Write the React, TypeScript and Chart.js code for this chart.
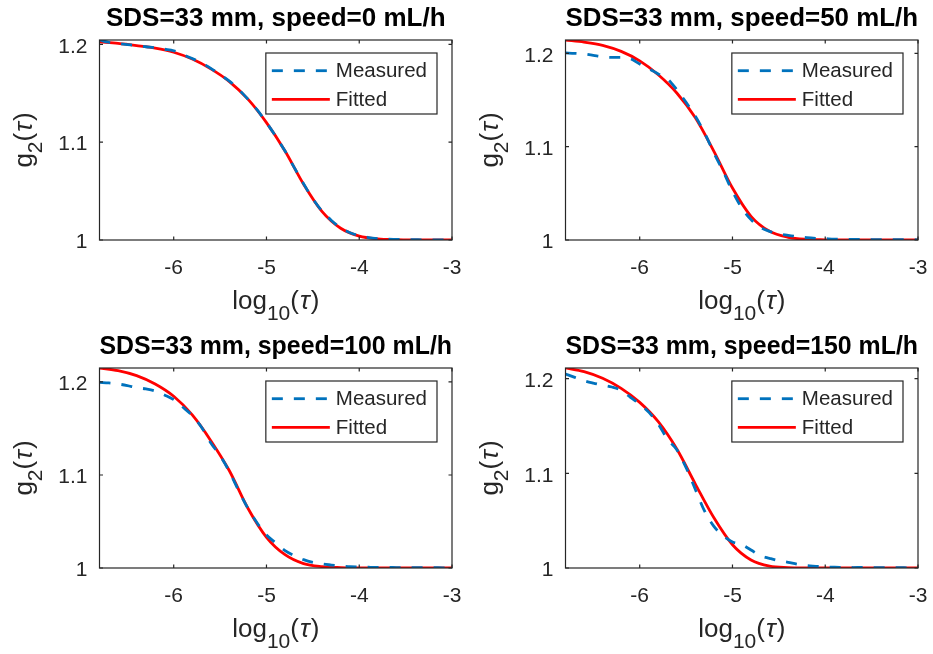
import React, { useEffect, useRef } from "react";
import { Chart, registerables } from "chart.js";

Chart.register(...registerables);

// ---------- data ----------
const TITLES = [
  "SDS=33 mm, speed=0 mL/h",
  "SDS=33 mm, speed=50 mL/h",
  "SDS=33 mm, speed=100 mL/h",
  "SDS=33 mm, speed=150 mL/h",
];
const LEGEND_LABELS = ["Measured", "Fitted"];
const X_TICKS = [-6, -5, -4, -3];
const Y_TICKS = [1, 1.1, 1.2];
const X_MIN = -6.8;
const X_MAX = -3;
const Y_MIN = 1;
const Y_MAX = [1.2045, 1.2143, 1.215, 1.2113];

// log10(tau) sample positions
const TAU_FIT = [-6.8, -6.6, -6.4, -6.2, -6.0, -5.8, -5.6, -5.4, -5.2, -5.0, -4.8, -4.6, -4.4, -4.2, -4.0, -3.8, -3.6, -3.4, -3.2, -3.0];
const TAU_MEAS = [
  -6.8, -6.7, -6.6, -6.5, -6.4, -6.3, -6.2, -6.1, -6.0, -5.9, -5.8, -5.7, -5.6, -5.5, -5.4, -5.3, -5.2, -5.1, -5.0, -4.9,
  -4.8, -4.7, -4.6, -4.5, -4.4, -4.3, -4.2, -4.1, -4.0, -3.9, -3.8, -3.7, -3.6, -3.5, -3.4, -3.3, -3.2, -3.1, -3.0,
];

const FIT_0 = [1.2025, 1.201, 1.1988, 1.1962, 1.192, 1.185, 1.175, 1.162, 1.144, 1.12, 1.091, 1.057, 1.029, 1.012, 1.004, 1.0012, 1.0004, 1.0001, 1.0, 1.0];
const FIT_50 = [1.2143, 1.2121, 1.2086, 1.2021, 1.192, 1.1771, 1.1575, 1.131, 1.095, 1.0557, 1.0254, 1.0093, 1.0029, 1.0007, 1.0002, 1.0, 1.0, 1.0, 1.0, 1.0];
const FIT_100 = [1.215, 1.2122, 1.2068, 1.1978, 1.1846, 1.1645, 1.1369, 1.1045, 1.0642, 1.033, 1.0143, 1.0047, 1.0014, 1.0004, 1.0001, 1.0, 1.0, 1.0, 1.0, 1.0];
const FIT_150 = [1.2113, 1.2074, 1.2004, 1.1898, 1.175, 1.1546, 1.1257, 1.0887, 1.053, 1.0246, 1.0085, 1.002, 1.0005, 1.0001, 1.0, 1.0, 1.0, 1.0, 1.0, 1.0];

const MEAS_0 = [
  1.2045, 1.2022, 1.2008, 1.1998, 1.1989, 1.1976, 1.1966, 1.1951, 1.1935, 1.1895, 1.1855, 1.181, 1.1755, 1.169, 1.1625, 1.154, 1.144, 1.133, 1.12, 1.106,
  1.091, 1.074, 1.0575, 1.042, 1.0295, 1.02, 1.0125, 1.0075, 1.0045, 1.0025, 1.0014, 1.0008, 1.0006, 1.0004, 1.0003, 1.0002, 1.0002, 1.0001, 1.0001,
];
const MEAS_50 = [
  1.2004, 1.2, 1.1993, 1.1979, 1.1964, 1.1957, 1.1957, 1.1943, 1.1886, 1.1836, 1.1779, 1.1725, 1.161, 1.1475, 1.1325, 1.1146, 1.0932, 1.0736, 1.0521, 1.0343,
  1.0218, 1.0136, 1.0093, 1.0064, 1.005, 1.0036, 1.0025, 1.0018, 1.0014, 1.001, 1.0008, 1.0006, 1.0007, 1.0005, 1.0004, 1.0005, 1.0003, 1.0003, 1.0002,
];
const MEAS_100 = [
  1.1996, 1.1989, 1.1978, 1.1961, 1.1939, 1.1925, 1.1903, 1.186, 1.181, 1.1728, 1.1638, 1.1513, 1.1344, 1.1208, 1.1036, 1.0832, 1.0642, 1.0484, 1.0355, 1.0269,
  1.0186, 1.0133, 1.009, 1.0061, 1.0043, 1.0032, 1.0022, 1.0014, 1.0011, 1.0008, 1.0006, 1.0007, 1.0005, 1.0004, 1.0005, 1.0003, 1.0003, 1.0002, 1.0002,
];
const MEAS_150 = [
  1.205, 1.2014, 1.1979, 1.1954, 1.1933, 1.1912, 1.1877, 1.1803, 1.1732, 1.1644, 1.1521, 1.136, 1.125, 1.106, 1.083, 1.06, 1.044, 1.034, 1.0275, 1.0248,
  1.019, 1.013, 1.0102, 1.0077, 1.006, 1.0039, 1.0025, 1.0018, 1.0011, 1.0008, 1.0007, 1.0005, 1.0006, 1.0004, 1.0004, 1.0003, 1.0003, 1.0002, 1.0002,
];

const MEASURED = [MEAS_0, MEAS_50, MEAS_100, MEAS_150];
const FITTED = [FIT_0, FIT_50, FIT_100, FIT_150];

// axis labels as rich-text parts
const X_LABEL_PARTS = [
  { text: "log" },
  { text: "10", sub: true },
  { text: "(" },
  { text: "\u03C4", italic: true },
  { text: ")" },
];
const Y_LABEL_PARTS = [
  { text: "g" },
  { text: "2", sub: true },
  { text: "(" },
  { text: "\u03C4", italic: true },
  { text: ")" },
];

// ---------- styling ----------
const FONT = '"Liberation Sans", Arial, Helvetica, sans-serif';
const AXIS_COLOR = "#262626";
const BLUE = "#0072BD";
const RED = "#FF0000";
const CANVAS_W = 466;
const CANVAS_H = 326;
const PANEL_POS = [
  { left: 0, top: 0 },
  { left: 466, top: 0 },
  { left: 0, top: 328 },
  { left: 466, top: 328 },
];

type Part = { text: string; sub?: boolean; italic?: boolean };

function drawRich(ctx: CanvasRenderingContext2D, parts: Part[], x: number, y: number, rotate: boolean) {
  const main = 26;
  const sub = 21;
  const subDy = 10.5;
  ctx.save();
  ctx.translate(x, y);
  if (rotate) ctx.rotate(-Math.PI / 2);
  ctx.textAlign = "left";
  ctx.textBaseline = "alphabetic";
  ctx.fillStyle = AXIS_COLOR;
  const fonts = parts.map((p) => `${p.italic ? "italic " : ""}${p.sub ? sub : main}px ${FONT}`);
  const widths = parts.map((p, i) => {
    ctx.font = fonts[i];
    return ctx.measureText(p.text).width + (p.italic ? 2 : 0);
  });
  const total = widths.reduce((a, b) => a + b, 0);
  let cx = -total / 2;
  parts.forEach((p, i) => {
    ctx.font = fonts[i];
    ctx.fillText(p.text, cx + (p.italic ? 1 : 0), p.sub ? subDy : 0);
    cx += widths[i];
  });
  ctx.restore();
}

const matlabAxesPlugin = {
  id: "matlabAxes",
  afterDatasetsDraw(chart: any) {
    const { ctx, chartArea: a, scales } = chart;
    ctx.save();
    // axes box
    ctx.strokeStyle = AXIS_COLOR;
    ctx.lineWidth = 1.2;
    ctx.setLineDash([]);
    ctx.strokeRect(a.left, a.top, a.right - a.left, a.bottom - a.top);
    // inward tick marks
    const TL = 3.5;
    ctx.beginPath();
    for (const t of scales.x.ticks) {
      const px = scales.x.getPixelForValue(t.value);
      ctx.moveTo(px, a.bottom);
      ctx.lineTo(px, a.bottom - TL);
      ctx.moveTo(px, a.top);
      ctx.lineTo(px, a.top + TL);
    }
    for (const t of scales.y.ticks) {
      const py = scales.y.getPixelForValue(t.value);
      ctx.moveTo(a.left, py);
      ctx.lineTo(a.left + TL, py);
      ctx.moveTo(a.right, py);
      ctx.lineTo(a.right - TL, py);
    }
    ctx.stroke();

    // legend box
    const legendFont = `20.5px ${FONT}`;
    ctx.font = legendFont;
    const ds = chart.data.datasets;
    const textW = Math.max(...ds.map((d: any) => ctx.measureText(d.label).width));
    const padL = 6, lineLen = 58, gap = 6, padR = 10;
    const boxW = padL + lineLen + gap + textW + padR;
    const boxH = 61;
    const bx = a.right - 15 - boxW;
    const by = a.top + 13;
    ctx.fillStyle = "#ffffff";
    ctx.fillRect(bx, by, boxW, boxH);
    ctx.strokeStyle = AXIS_COLOR;
    ctx.lineWidth = 1.2;
    ctx.strokeRect(bx, by, boxW, boxH);
    const rowY = [by + 17.7, by + 46.3];
    ds.forEach((d: any, i: number) => {
      const ry = rowY[i];
      ctx.save();
      ctx.strokeStyle = d.borderColor;
      ctx.lineWidth = d.borderWidth;
      ctx.setLineDash(d.borderDash || []);
      ctx.beginPath();
      ctx.moveTo(bx + padL, ry);
      ctx.lineTo(bx + padL + lineLen, ry);
      ctx.stroke();
      ctx.restore();
      ctx.fillStyle = AXIS_COLOR;
      ctx.textBaseline = "middle";
      ctx.textAlign = "left";
      ctx.font = legendFont;
      ctx.fillText(d.label, bx + padL + lineLen + gap, ry + 1);
    });

    // axis titles
    drawRich(ctx, X_LABEL_PARTS, (a.left + a.right) / 2, 309, false);
    drawRich(ctx, Y_LABEL_PARTS, 31.5, (a.top + a.bottom) / 2, true);
    ctx.restore();
  },
};

function makeConfig(i: number): any {
  return {
    type: "line",
    data: {
      datasets: [
        {
          label: LEGEND_LABELS[0],
          data: MEASURED[i].map((y, k) => ({ x: TAU_MEAS[k], y })),
          borderColor: BLUE,
          borderWidth: 2.8,
          borderDash: [11, 11],
          pointRadius: 0,
          fill: false,
          cubicInterpolationMode: "monotone",
        },
        {
          label: LEGEND_LABELS[1],
          data: FITTED[i].map((y, k) => ({ x: TAU_FIT[k], y })),
          borderColor: RED,
          borderWidth: 2.8,
          pointRadius: 0,
          fill: false,
          cubicInterpolationMode: "monotone",
        },
      ],
    },
    options: {
      animation: false,
      responsive: false,
      devicePixelRatio: 1,
      events: [],
      layout: { padding: { left: 0, right: 14, top: 0, bottom: 0 } },
      plugins: {
        legend: { display: false },
        tooltip: { enabled: false },
        title: {
          display: true,
          text: TITLES[i],
          fullSize: false,
          color: "#000000",
          font: { family: FONT, size: 26, weight: "bold", lineHeight: 1.2 },
          padding: { top: 3.5, bottom: 5.3 },
        },
      },
      scales: {
        x: {
          type: "linear",
          min: X_MIN,
          max: X_MAX,
          grid: { display: false, drawTicks: false },
          border: { display: false },
          ticks: {
            font: { family: FONT, size: 21 },
            color: AXIS_COLOR,
            padding: 16,
            maxRotation: 0,
            autoSkip: false,
            callback: (v: number) => String(v),
          },
          afterBuildTicks: (s: any) => {
            s.ticks = X_TICKS.map((v) => ({ value: v }));
          },
          afterFit: (s: any) => {
            s.height = 86;
            s.paddingLeft = 0;
            s.paddingRight = 0;
          },
        },
        y: {
          type: "linear",
          min: Y_MIN,
          max: Y_MAX[i],
          grid: { display: false, drawTicks: false },
          border: { display: false },
          ticks: {
            font: { family: FONT, size: 21 },
            color: AXIS_COLOR,
            padding: 12,
            labelOffset: 2.5,
            autoSkip: false,
            callback: (v: number) => String(Math.round(v * 10) / 10),
          },
          afterBuildTicks: (s: any) => {
            s.ticks = Y_TICKS.map((v) => ({ value: v }));
          },
          afterFit: (s: any) => {
            s.width = 99.5;
            s.paddingTop = 0;
            s.paddingBottom = 0;
          },
        },
      },
    },
    plugins: [matlabAxesPlugin],
  };
}

function Panel({ index }: { index: number }) {
  const ref = useRef<HTMLCanvasElement | null>(null);
  useEffect(() => {
    if (!ref.current) return;
    const chart = new Chart(ref.current, makeConfig(index));
    return () => chart.destroy();
  }, [index]);
  const pos = PANEL_POS[index];
  return (
    <canvas
      ref={ref}
      width={CANVAS_W}
      height={CANVAS_H}
      style={{ position: "absolute", left: pos.left, top: pos.top, width: CANVAS_W, height: CANVAS_H, display: "block" }}
    />
  );
}

export default function App() {
  return (
    <div style={{ position: "absolute", left: 0, top: 0, width: 933, height: 654, background: "#ffffff", overflow: "hidden" }}>
      {[0, 1, 2, 3].map((i) => (
        <Panel key={i} index={i} />
      ))}
    </div>
  );
}
